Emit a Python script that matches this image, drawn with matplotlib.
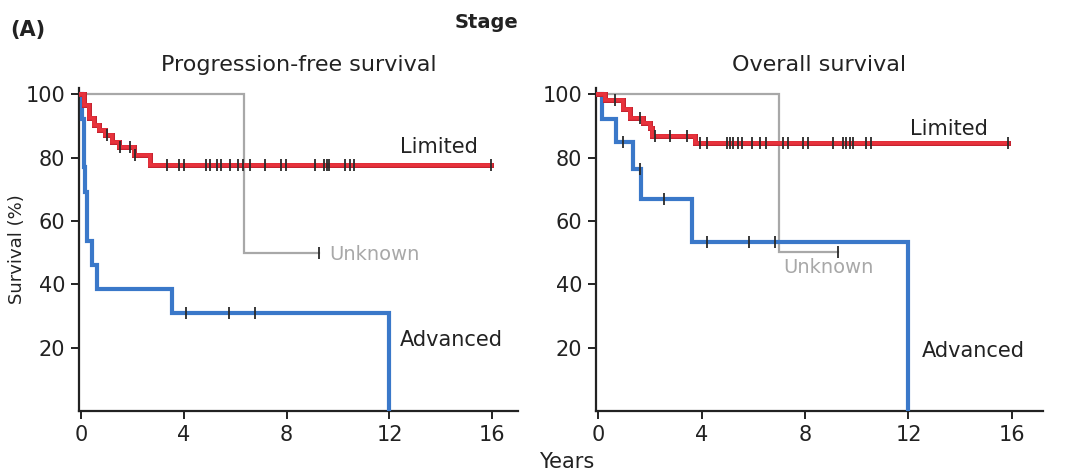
import numpy as np
import matplotlib
matplotlib.use("Agg")
import matplotlib.pyplot as plt
import matplotlib.patheffects as pe

plt.rcParams['font.family'] = ['DejaVu Sans']

# ---------------- data ----------------
# Progression-free survival
pfs_lim_t = [0, 0.1, 0.3, 0.49, 0.69, 0.95, 1.2, 1.46, 2.05, 2.7, 15.95]
pfs_lim_v = [100, 96.7, 92.5, 90.4, 88.8, 87.2, 85.1, 83.5, 80.9, 77.7, 77.7]
pfs_lim_c = [1.0, 1.53, 1.92, 2.1, 3.33, 3.8, 4.02, 4.88, 5.02, 5.3, 5.46, 5.8,
             6.1, 6.3, 6.56, 7.15, 7.79, 7.98, 9.09, 9.45, 9.55, 9.65, 10.25,
             10.45, 10.6, 15.95]
pfs_adv_t = [0, 0.05, 0.1, 0.13, 0.16, 0.25, 0.41, 0.61, 3.52, 12.0]
pfs_adv_v = [100, 92.3, 84.6, 76.9, 69.2, 53.8, 46.2, 38.5, 30.8, 0]
pfs_adv_c = [4.1, 5.75, 6.76]
pfs_unk_t = [0, 6.33, 9.24]
pfs_unk_v = [100, 50, 50]
pfs_unk_c = [9.24]

# Overall survival
os_lim_t = [0, 0.25, 0.98, 1.24, 1.75, 2.0, 2.07, 3.75, 15.84]
os_lim_v = [100, 98.2, 95.3, 92.6, 91.0, 89.5, 86.8, 84.7, 84.7]
os_lim_c = [0.66, 1.62, 2.2, 2.78, 3.42, 3.94, 4.2, 4.97, 5.1, 5.23, 5.42, 5.55,
            5.94, 6.25, 6.51, 7.16, 7.35, 7.93, 8.12, 9.09, 9.47, 9.6, 9.73,
            9.86, 10.37, 10.57, 15.84]
os_adv_t = [0, 0.16, 0.69, 1.35, 1.66, 3.62, 12.0]
os_adv_v = [100, 92.3, 85.0, 76.3, 66.8, 53.5, 0]
os_adv_c = [0.98, 1.62, 2.55, 4.2, 5.83, 6.84]
os_unk_t = [0, 6.99, 9.27]
os_unk_v = [100, 50.2, 50.2]
os_unk_c = [9.27]

x_ticks = [0, 4, 8, 12, 16]
y_ticks = [20, 40, 60, 80, 100]

RED = '#e8323c'
BLUE = '#3a78c9'
GRAY = '#a8a8a8'


def value_at(t, v, x):
    i = np.searchsorted(np.asarray(t), x, side='right') - 1
    return np.asarray(v)[max(i, 0)]


def draw_curve(ax, t, v, c, color, lw, z, effects=None):
    line, = ax.step(t, v, where='post', color=color, lw=lw, zorder=z,
                    solid_joinstyle='miter')
    if effects:
        line.set_path_effects(effects)
    ys = [value_at(t, v, x) for x in c]
    ax.plot(c, ys, linestyle='none', marker='|', markersize=9, mew=1.3,
            color='#2a2a2a', zorder=z + 0.5)


fig = plt.figure(figsize=(10.77, 4.75), dpi=100)
W, H = 1077, 475

def make_ax(px0, px1, xmax):
    ax = fig.add_axes([px0 / W, (H - 411) / H, (px1 - px0) / W, (411 - 88) / H])
    ax.set_xlim(-0.08, xmax)
    ax.set_ylim(0, 102)
    ax.spines['top'].set_visible(False)
    ax.spines['right'].set_visible(False)
    for s in ('left', 'bottom'):
        ax.spines[s].set_linewidth(1.6)
        ax.spines[s].set_color('#222222')
    ax.set_xticks(x_ticks)
    ax.set_yticks(y_ticks)
    ax.tick_params(direction='out', length=6, width=1.4, labelsize=15,
                   colors='#222222', pad=4)
    return ax

red_fx = [pe.Stroke(linewidth=3.6, foreground='#c42330'), pe.Normal()]

# Left panel
ax1 = make_ax(79, 518, 17.0)
draw_curve(ax1, pfs_unk_t, pfs_unk_v, pfs_unk_c, GRAY, 1.6, 2)
draw_curve(ax1, pfs_adv_t, pfs_adv_v, pfs_adv_c, BLUE, 3.0, 3)
draw_curve(ax1, pfs_lim_t, pfs_lim_v, pfs_lim_c, RED, 2.6, 4, red_fx)
ax1.set_title('Progression-free survival', fontsize=16, pad=12, color='#222222')
ax1.text(12.39, 83.4, 'Limited', fontsize=15, va='center', color='#222222')
ax1.text(9.67, 49.3, 'Unknown', fontsize=14, va='center', color=GRAY)
ax1.text(12.39, 22.4, 'Advanced', fontsize=15, va='center', color='#222222')
ax1.set_ylabel('Survival (%)', fontsize=13, color='#222222')
ax1.yaxis.set_label_coords(-0.12, 0.5)

# Right panel
ax2 = make_ax(596, 1043, 17.2)
draw_curve(ax2, os_unk_t, os_unk_v, os_unk_c, GRAY, 1.6, 2)
draw_curve(ax2, os_adv_t, os_adv_v, os_adv_c, BLUE, 3.0, 3)
draw_curve(ax2, os_lim_t, os_lim_v, os_lim_c, RED, 2.6, 4, red_fx)
ax2.set_title('Overall survival', fontsize=16, pad=12, color='#222222')
ax2.text(12.06, 88.9, 'Limited', fontsize=15, va='center', color='#222222')
ax2.text(7.15, 45.3, 'Unknown', fontsize=14, va='center', color=GRAY)
ax2.text(12.52, 18.8, 'Advanced', fontsize=15, va='center', color='#222222')

fig.text(10 / W, 1 - 30 / H, '(A)', fontsize=15, fontweight='bold',
         ha='left', va='center', color='#222222')
fig.text(487 / W, 1 - 22 / H, 'Stage', fontsize=14, fontweight='bold',
         ha='center', va='center', color='#222222')
fig.text(567 / W, 1 - 462 / H, 'Years', fontsize=15, ha='center',
         va='center', color='#222222')

fig.savefig('out.png', dpi=100)
